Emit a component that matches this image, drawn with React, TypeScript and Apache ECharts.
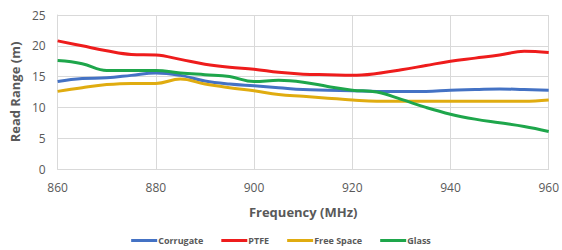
import React, { useEffect, useRef } from "react";
import * as echarts from "echarts";

const frequencies = [860, 865, 870, 875, 880, 885, 890, 895, 900, 905, 910, 915, 920, 925, 930, 935, 940, 945, 950, 955, 960];
const corrugate = [14.2, 14.7, 14.8, 15.2, 15.6, 15.2, 14.3, 13.8, 13.5, 13.2, 12.9, 12.8, 12.7, 12.6, 12.6, 12.6, 12.8, 12.9, 13.0, 12.9, 12.8];
const ptfe = [20.8, 20.0, 19.2, 18.6, 18.5, 17.8, 17.0, 16.5, 16.2, 15.7, 15.4, 15.3, 15.2, 15.5, 16.1, 16.8, 17.5, 18.0, 18.5, 19.1, 18.9];
const freeSpace = [12.6, 13.2, 13.7, 13.9, 13.9, 14.6, 13.8, 13.2, 12.7, 12.1, 11.8, 11.5, 11.2, 11.0, 11.0, 11.0, 11.0, 11.0, 11.0, 11.0, 11.2];
const glass = [17.6, 17.1, 16.0, 16.0, 16.0, 15.6, 15.3, 15.0, 14.2, 14.4, 14.1, 13.4, 12.8, 12.5, 11.3, 10.0, 8.9, 8.1, 7.5, 6.9, 6.1];
const seriesNames = ["Corrugate", "PTFE", "Free Space", "Glass"];
const seriesColors = ["#4472C4", "#EE1C1C", "#E0AC10", "#1EA64B"];

export default function App() {
  const ref = useRef<HTMLDivElement>(null);
  useEffect(() => {
    if (!ref.current) return;
    const chart = echarts.init(ref.current, null, { renderer: "svg" });
    const all = [corrugate, ptfe, freeSpace, glass];
    chart.setOption({
      animation: false,
      textStyle: { fontFamily: "Open Sans" },
      grid: { left: 55, right: 10, top: 15, bottom: 81, containLabel: false },
      legend: {
        bottom: 0,
        left: "center",
        itemWidth: 26,
        itemHeight: 3,
        itemGap: 18,
        icon: "rect",
        textStyle: { fontSize: 9, color: "#595959", fontWeight: "bold", padding: [0, 0, 0, -4] },
        data: seriesNames,
      },
      xAxis: {
        type: "value",
        min: 860,
        max: 960,
        interval: 20,
        name: "Frequency (MHz)",
        nameLocation: "middle",
        nameGap: 36,
        nameTextStyle: { fontSize: 13, fontWeight: "bold", color: "#595959" },
        axisLine: { show: true, lineStyle: { color: "#d9d9d9" } },
        axisTick: { show: false },
        axisLabel: { fontSize: 12, color: "#595959", margin: 12 },
        splitLine: { show: true, lineStyle: { color: "#d9d9d9" } },
      },
      yAxis: {
        type: "value",
        min: 0,
        max: 25,
        interval: 5,
        name: "Read Range (m)",
        nameLocation: "middle",
        nameGap: 34,
        nameTextStyle: { fontSize: 13, fontWeight: "bold", color: "#595959" },
        axisLine: { show: true, lineStyle: { color: "#d9d9d9" } },
        axisTick: { show: false },
        axisLabel: { fontSize: 12, color: "#595959", margin: 12 },
        splitLine: { show: true, lineStyle: { color: "#d9d9d9" } },
      },
      series: seriesNames.map((n, i) => ({
        name: n,
        type: "line",
        smooth: 0.4,
        showSymbol: false,
        symbol: "none",
        color: seriesColors[i],
        lineStyle: { width: 3, color: seriesColors[i] },
        data: frequencies.map((f, j) => [f, all[i][j]]),
      })),
    });
    return () => chart.dispose();
  }, []);
  return <div ref={ref} style={{ position: "absolute", left: 0, top: 0, width: 562, height: 250 }} />;
}
